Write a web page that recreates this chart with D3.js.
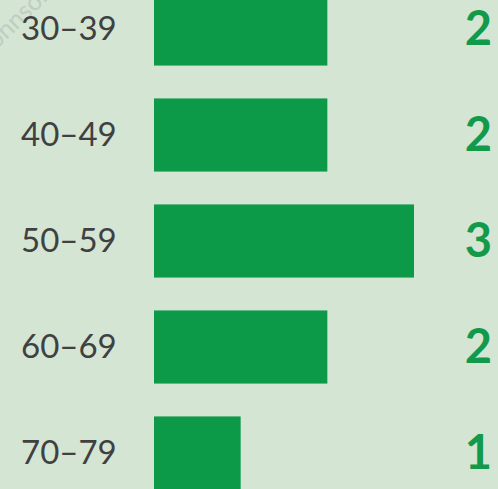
<!DOCTYPE html>
<html>
<head>
<meta charset="utf-8">
<script src="https://cdn.jsdelivr.net/npm/d3@7"></script>
<style>
  html, body { margin: 0; padding: 0; background: #d4e5d3; overflow: hidden; }
</style>
</head>
<body>
<div id="chart"></div>
<script>
// Data
var categories = ["30–39", "40–49", "50–59", "60–69", "70–79"];
var counts = [2, 2, 3, 2, 1];

var width = 498;
var height = 489;

var svg = d3.select("#chart")
  .append("svg")
    .attr("width", width)
    .attr("height", height);

svg.append("rect")
  .attr("width", width)
  .attr("height", height)
  .attr("fill", "#d4e5d3");

// faint watermark in the corner (cut off in the original too)
svg.append("text")
  .attr("transform", "translate(-4,50) rotate(-44)")
  .attr("font-family", "Lato, 'Open Sans', sans-serif")
  .attr("font-size", 25)
  .attr("fill", "#c2cdc2")
  .text("ohnson");

// Scales
var x = d3.scaleLinear()
  .domain([0, 3])
  .range([154, 414]);

var y = d3.scaleBand()
  .domain(categories)
  .range([-24, 506])
  .paddingInner(0.31)
  .paddingOuter(0.155);

// Bars
svg.append("g")
  .selectAll("rect")
  .data(categories)
  .enter()
  .append("rect")
    .attr("x", x(0))
    .attr("y", function(d) { return y(d); })
    .attr("width", function(d, i) { return x(counts[i]) - x(0); })
    .attr("height", y.bandwidth())
    .attr("fill", "#0c9a48");

// Category labels
svg.append("g")
  .selectAll("text")
  .data(categories)
  .enter()
  .append("text")
    .attr("x", 21)
    .attr("y", function(d) { return y(d) + y.bandwidth() / 2; })
    .attr("dy", "0.32em")
    .attr("font-family", "Lato, 'Open Sans', sans-serif")
    .attr("font-size", 33)
    .attr("fill", "#404040")
    .text(function(d) { return d; });

// Value labels
svg.append("g")
  .selectAll("text")
  .data(categories)
  .enter()
  .append("text")
    .attr("x", 492)
    .attr("y", function(d) { return y(d) + y.bandwidth() / 2; })
    .attr("dy", "0.34em")
    .attr("text-anchor", "end")
    .attr("font-family", "Lato, 'Open Sans', sans-serif")
    .attr("font-weight", "bold")
    .attr("font-size", 47)
    .attr("fill", "#129a4a")
    .text(function(d, i) { return counts[i]; });
</script>
</body>
</html>
